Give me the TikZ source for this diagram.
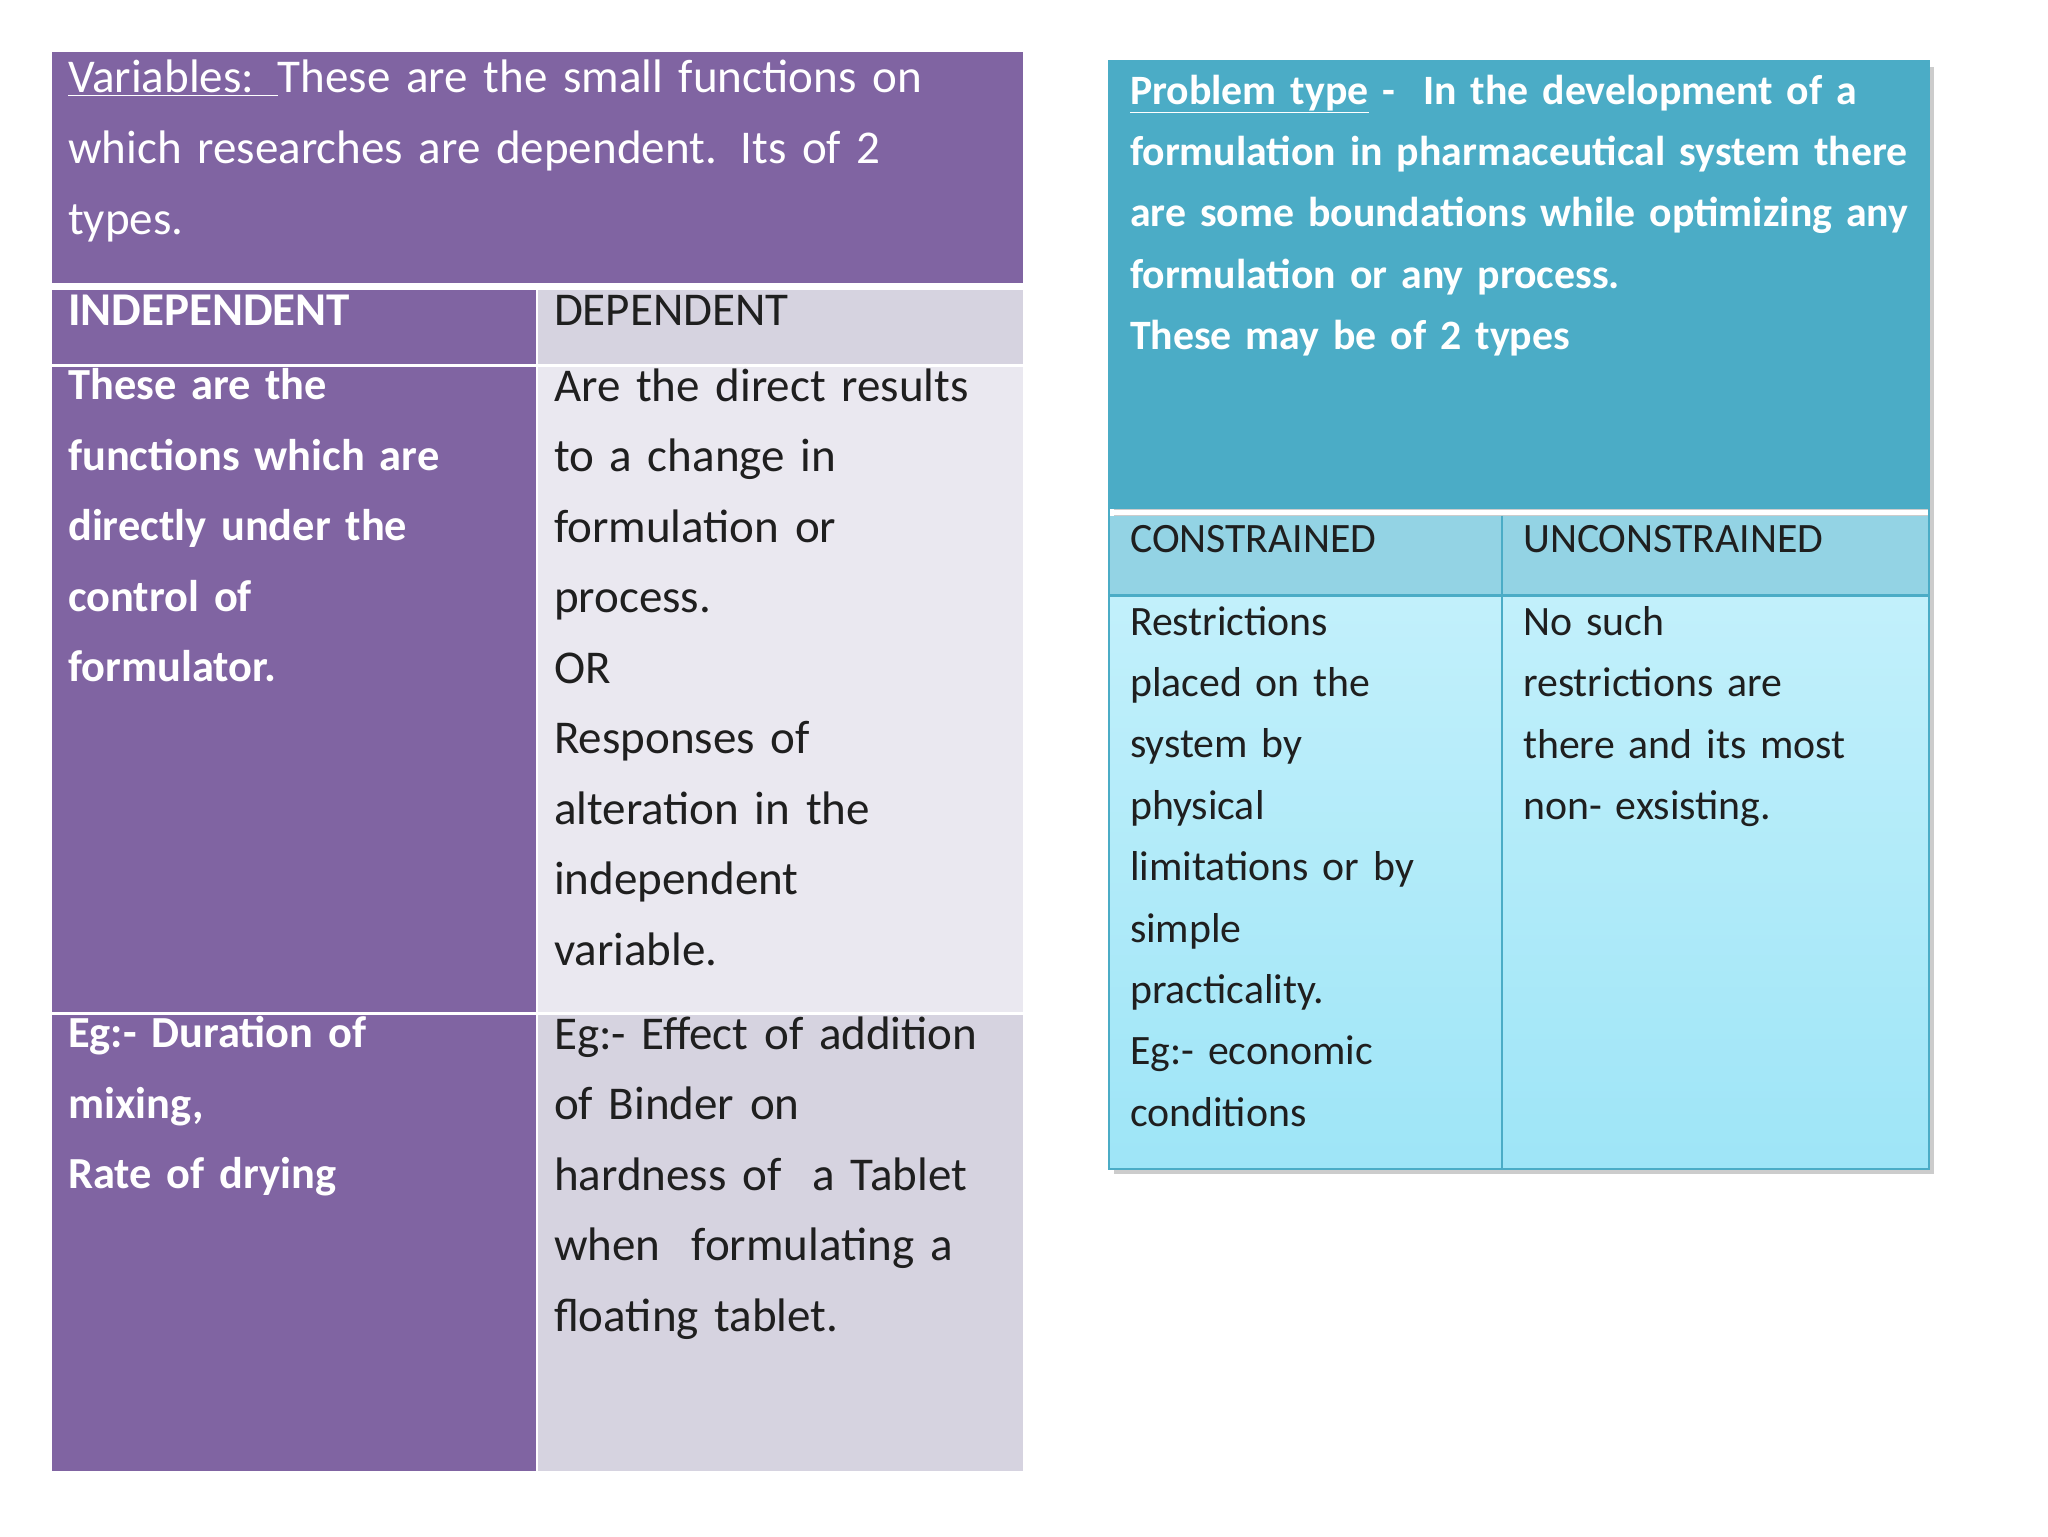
\documentclass[tikz,border=0pt]{standalone}
\usepackage{fontspec}
\setmainfont{Carlito}
\definecolor{purp}{HTML}{8064A2}
\definecolor{lgA}{HTML}{D6D3E0}
\definecolor{lgB}{HTML}{EAE8F0}
\definecolor{teal}{HTML}{4BACC6}
\definecolor{tealH}{HTML}{93D3E4}
\definecolor{cyT}{HTML}{C2F0FB}
\definecolor{cyB}{HTML}{9EE5F7}
\definecolor{dk}{HTML}{1F1F1F}
\tikzset{
 cell/.style={anchor=north west,inner sep=0pt,align=left},
 lt/.style={cell,font=\fontsize{36}{54}\selectfont},
 rt/.style={cell,font=\fontsize{32}{47}\selectfont},
}
\begin{document}
\begin{tikzpicture}[x=1pt,y=-1pt]
\useasboundingbox (0,0) rectangle (1568,1176);
\fill[white] (0,0) rectangle (1568,1176);
% left table
\fill[purp] (40,40) rectangle (783,217);
\fill[purp] (40,222) rectangle (410,279);
\fill[lgA] (412,222) rectangle (783,279);
\fill[purp] (40,281) rectangle (410,775);
\fill[lgB] (412,281) rectangle (783,775);
\fill[purp] (40,777) rectangle (410,1126);
\fill[lgA] (412,777) rectangle (783,1126);
\node[lt,text=white,text width=720pt] (vh) at (52,46) {\underline{Variables: }These are the small functions on which researches are dependent. Its of 2 types.};
\node[lt,text=white,font=\fontsize{36}{54}\selectfont\bfseries] (ih) at (52,226) {INDEPENDENT};
\node[lt,text=dk] (dh) at (424,226) {DEPENDENT};
\node[lt,text=white,font=\fontsize{34}{54}\selectfont\bfseries,text width=350pt] (ib) at (52,282) {These are the\\functions which are\\directly under the\\control of\\formulator.};
\node[lt,text=dk,text width=350pt] (db) at (424,282) {Are the direct results\\to a change in\\formulation or\\process.\\OR\\Responses of\\alteration in the\\independent\\variable.};
\node[lt,text=white,font=\fontsize{34}{54}\selectfont\bfseries,text width=350pt] (ie) at (52,778) {Eg:- Duration of\\mixing,\\Rate of drying};
\node[lt,text=dk,text width=360pt] (de) at (424,778) {Eg:- Effect of addition\\of Binder on\\hardness of \ a Tablet\\when \ formulating a\\floating tablet.};
% right table
\fill[gray!40] (853,51) rectangle (1481,899);
\fill[teal] (849,47) rectangle (1477,390);
\fill[tealH] (849,395) rectangle (1477,455);
\shade[top color=cyT,bottom color=cyB] (849,457) rectangle (1477,895);
\draw[white,line width=4pt] (849,392.5) -- (1477,392.5);
\draw[teal,line width=2pt] (849,47) rectangle (1477,895);
\draw[teal,line width=2pt] (1150,395) -- (1150,895);
\draw[teal,line width=2pt] (849,456) -- (1477,456);
\node[rt,text=white,font=\fontsize{32}{47}\selectfont\bfseries,text width=600pt] (ph) at (865,57) {\underline{Problem type} - \ In the development of a formulation in pharmaceutical system there are some boundations while optimizing any formulation or any process.\\These may be of 2 types};
\node[rt,text=dk] (ch) at (865,402) {CONSTRAINED};
\node[rt,text=dk] (uh) at (1166,402) {UNCONSTRAINED};
\node[rt,text=dk,text width=280pt] (cb) at (865,464) {Restrictions\\placed on the\\system by\\physical\\limitations or by\\simple\\practicality.\\Eg:- economic\\conditions};
\node[rt,text=dk,text width=300pt] (ub) at (1166,464) {No such\\restrictions are\\there and its most\\non- exsisting.};
\end{tikzpicture}
\end{document}
